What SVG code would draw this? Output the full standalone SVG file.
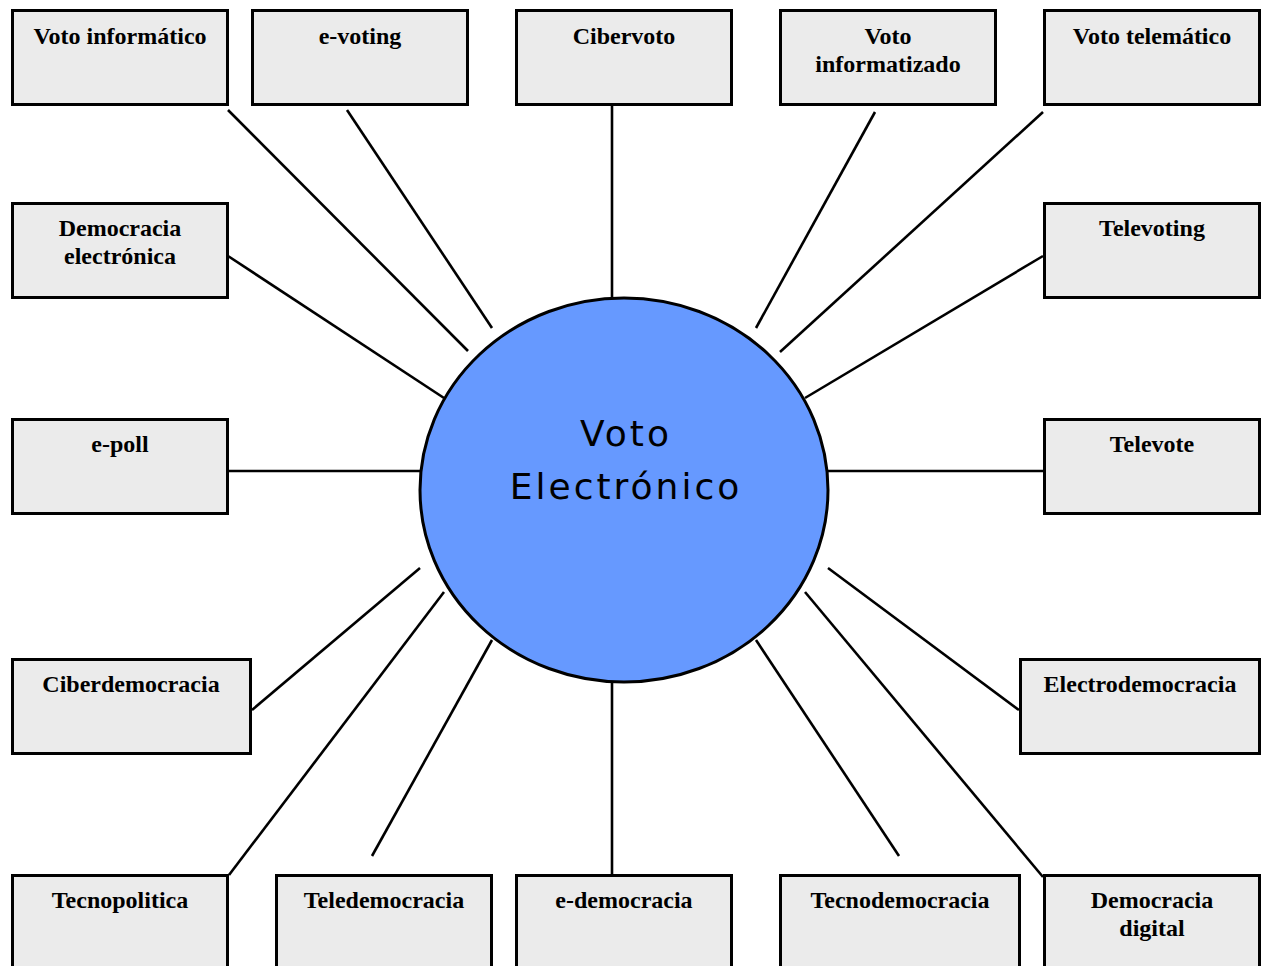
<svg xmlns="http://www.w3.org/2000/svg" width="1262" height="966" viewBox="0 0 1262 966">
<style>
.box{fill:#ebebeb;stroke:#000;stroke-width:3}
.lbl{font-family:"Liberation Serif","Times New Roman",serif;font-weight:bold;font-size:24px;fill:#000;text-anchor:middle}
.conn line{stroke:#000;stroke-width:2.6;stroke-linecap:butt}
.hub{fill:#6699ff;stroke:#000;stroke-width:3}
.hubtxt{font-family:"DejaVu Sans",Verdana,sans-serif;font-size:36px;letter-spacing:3px;fill:#000;text-anchor:middle}
</style>
<rect width="1262" height="966" fill="#fff"/>
<g id="connectors" class="conn">
<line x1="228" y1="110" x2="468" y2="351"/>
<line x1="347" y1="110" x2="492" y2="328"/>
<line x1="612" y1="106" x2="612" y2="298"/>
<line x1="875" y1="112" x2="756" y2="328"/>
<line x1="1043" y1="112" x2="780" y2="352"/>
<line x1="228" y1="256" x2="444" y2="398"/>
<line x1="1043" y1="256" x2="805" y2="398"/>
<line x1="228" y1="471" x2="421" y2="471"/>
<line x1="827" y1="471" x2="1043" y2="471"/>
<line x1="252" y1="710" x2="420" y2="568"/>
<line x1="229" y1="875" x2="444" y2="592"/>
<line x1="372" y1="856" x2="492" y2="640"/>
<line x1="612" y1="681" x2="612" y2="874"/>
<line x1="899" y1="856" x2="756" y2="640"/>
<line x1="1043" y1="877" x2="805" y2="592"/>
<line x1="1019" y1="710" x2="828" y2="568"/>
</g>
<g id="hub">
<ellipse class="hub" cx="624" cy="490" rx="204" ry="192"/>
<text class="hubtxt" x="626" y="446">Voto</text>
<text class="hubtxt" x="626" y="499">Electrónico</text>
</g>
<g id="n1"><rect class="box" x="12.5" y="10.5" width="215" height="94"/><text class="lbl" x="120" y="44">Voto informático</text></g>
<g id="n2"><rect class="box" x="252.5" y="10.5" width="215" height="94"/><text class="lbl" x="360" y="44">e-voting</text></g>
<g id="n3"><rect class="box" x="516.5" y="10.5" width="215" height="94"/><text class="lbl" x="624" y="44">Cibervoto</text></g>
<g id="n4"><rect class="box" x="780.5" y="10.5" width="215" height="94"/><text class="lbl" x="888" y="44">Voto</text><text class="lbl" x="888" y="72">informatizado</text></g>
<g id="n5"><rect class="box" x="1044.5" y="10.5" width="215" height="94"/><text class="lbl" x="1152" y="44">Voto telemático</text></g>
<g id="n6"><rect class="box" x="12.5" y="203.5" width="215" height="94"/><text class="lbl" x="120" y="236">Democracia</text><text class="lbl" x="120" y="264">electrónica</text></g>
<g id="n7"><rect class="box" x="1044.5" y="203.5" width="215" height="94"/><text class="lbl" x="1152" y="236">Televoting</text></g>
<g id="n8"><rect class="box" x="12.5" y="419.5" width="215" height="94"/><text class="lbl" x="120" y="452">e-poll</text></g>
<g id="n9"><rect class="box" x="1044.5" y="419.5" width="215" height="94"/><text class="lbl" x="1152" y="452">Televote</text></g>
<g id="n10"><rect class="box" x="12.5" y="659.5" width="238" height="94"/><text class="lbl" x="131" y="692">Ciberdemocracia</text></g>
<g id="n11"><rect class="box" x="1020.5" y="659.5" width="239" height="94"/><text class="lbl" x="1140" y="692">Electrodemocracia</text></g>
<g id="n12"><rect class="box" x="12.5" y="875.5" width="215" height="94"/><text class="lbl" x="120" y="908">Tecnopolitica</text></g>
<g id="n13"><rect class="box" x="276.5" y="875.5" width="215" height="94"/><text class="lbl" x="384" y="908">Teledemocracia</text></g>
<g id="n14"><rect class="box" x="516.5" y="875.5" width="215" height="94"/><text class="lbl" x="624" y="908">e-democracia</text></g>
<g id="n15"><rect class="box" x="780.5" y="875.5" width="239" height="94"/><text class="lbl" x="900" y="908">Tecnodemocracia</text></g>
<g id="n16"><rect class="box" x="1044.5" y="875.5" width="215" height="94"/><text class="lbl" x="1152" y="908">Democracia</text><text class="lbl" x="1152" y="936">digital</text></g>
</svg>
